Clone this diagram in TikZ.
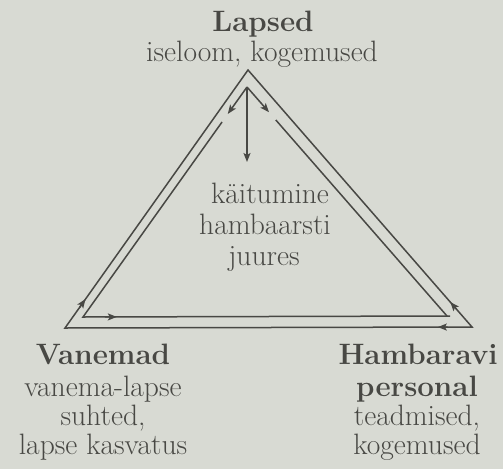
\documentclass[tikz,border=0pt]{standalone}
\usetikzlibrary{arrows.meta,calc}
\definecolor{paper}{RGB}{216,218,211}
\definecolor{ink}{RGB}{72,72,68}
\begin{document}
\begin{tikzpicture}[x=1pt,y=-1pt,
  line/.style={draw=ink,line width=1.5pt},
  tip/.style={line,-{Stealth[length=9pt,width=7pt,inset=2pt]}},
  lbl/.style={text=ink,font=\fontsize{29.5}{31}\selectfont,anchor=base,inner sep=0pt},
  hd/.style={text=ink,font=\fontsize{29.5}{31}\selectfont\bfseries,anchor=base,inner sep=0pt}]
\fill[paper] (0,0) rectangle (503,469);
\useasboundingbox (0,0) rectangle (503,469);
% outer triangle
\coordinate (A) at (248,70);
\coordinate (L) at (65,328);
\coordinate (R) at (472,327);
% inner triangle
\coordinate (a) at (247,87);
\coordinate (l) at (83,317);
\coordinate (r) at (447,316);
\coordinate (rb) at (450,316);
\coordinate (c) at (247,162);
\draw[line] (L) -- (A) -- (R) -- cycle;
\draw[tip] ($(L)!0.08!(A)$) -- ($(L)!0.112!(A)$);
\draw[tip] ($(R)!0.07!(A)$) -- ($(R)!0.097!(A)$);
\draw[tip] ($(R)!0.06!(L)$) -- ($(R)!0.084!(L)$);
\draw[line] ($(a)!0.152!(l)$) -- (l) -- (rb);
\draw[tip] ($(l)!0.06!(r)$) -- ($(l)!0.093!(r)$);
\draw[line] ($(a)!0.144!(r)$) -- (r);
\draw[tip] (a) -- ($(a)!0.117!(l)$);
\draw[tip] (a) -- ($(a)!0.11!(r)$);
\draw[tip] (a) -- (c);
% texts
\node[hd] (lapsed) at (263,31) {Lapsed};
\node[lbl] (lapsed2) at (262,61) {iseloom, kogemused};
\node[lbl] (kait1) at (270,203) {käitumine};
\node[lbl] (kait2) at (265,234) {hambaarsti};
\node[lbl] (kait3) at (264,265) {juures};
\node[hd] (van1) at (103,364) {Vanemad};
\node[lbl] (van2) at (103,396) {vanema-lapse};
\node[lbl] (van3) at (103,425) {suhted,};
\node[lbl] (van4) at (103,454) {lapse kasvatus};
\node[hd] (ham1) at (418,364) {Hambaravi};
\node[hd] (ham2) at (417,396) {personal};
\node[lbl] (ham3) at (417,425) {teadmised,};
\node[lbl] (ham4) at (417,454) {kogemused};
\end{tikzpicture}
\end{document}
